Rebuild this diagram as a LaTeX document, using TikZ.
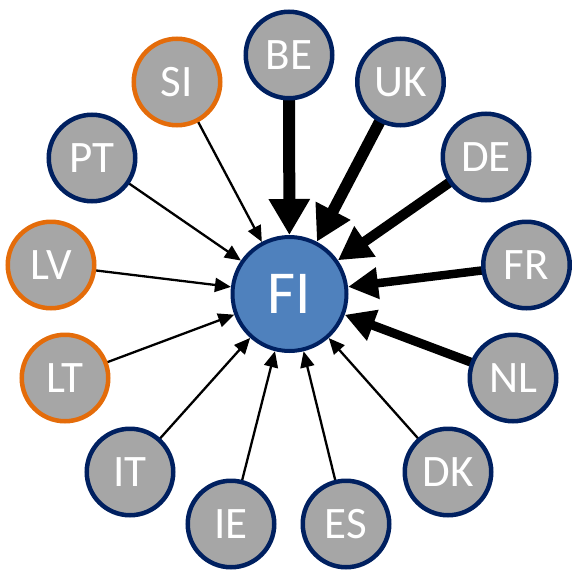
\documentclass[tikz,border=0pt]{standalone}
\usepackage{fontspec}
\setmainfont{Carlito}
\usetikzlibrary{arrows.meta}
\definecolor{navy}{HTML}{002060}
\definecolor{orng}{HTML}{E46C0A}
\definecolor{gry}{HTML}{A6A6A6}
\definecolor{fiblue}{HTML}{4F81BD}
\pgfdeclarelayer{bg}
\pgfsetlayers{bg,main}
\tikzset{
  country/.style={circle, draw=navy, fill=gry, line width=4.5pt, minimum size=86.5pt,
    inner sep=0pt, text=white, font=\fontsize{45}{45}\selectfont},
  eu/.style={country, draw=orng},
  hub/.style={circle, draw=navy, fill=fiblue, line width=4pt, minimum size=114pt,
    inner sep=0pt, text=white, font=\fontsize{61}{61}\selectfont},
  flow/.style n args={3}{line width=#1, -{Triangle[length=#2, width=#3]}, shorten <=-6pt},
  flowthin/.style={flow={2.3pt}{16pt}{14pt}},
}
\begin{document}
\begin{tikzpicture}[x=1pt, y=-1pt]
\useasboundingbox (0,0) rectangle (571,573);
\node[hub] (FI) at (289.5,294) {FI};
\node[country] (BE) at (289,55) {BE};
\node[country] (UK) at (400.5,82) {UK};
\node[country] (DE) at (486,157) {DE};
\node[country] (FR) at (526.5,265) {FR};
\node[country] (NL) at (513,378) {NL};
\node[country] (DK) at (448,472) {DK};
\node[country] (ES) at (346,524) {ES};
\node[country] (IE) at (231,524) {IE};
\node[country] (IT) at (130,472) {IT};
\node[eu] (LT) at (65,378) {LT};
\node[eu] (LV) at (51,265) {LV};
\node[country] (PT) at (92,158) {PT};
\node[eu] (SI) at (177,82) {SI};
\begin{pgfonlayer}{bg}
\draw[flow={12pt}{36pt}{39pt}] (BE) -- (FI);
\draw[flow={11.5pt}{35pt}{37pt}] (UK) -- (FI);
\draw[flow={10pt}{33pt}{35pt}] (DE) -- (FI);
\draw[flow={8.5pt}{30pt}{30pt}] (FR) -- (FI);
\draw[flow={9pt}{30pt}{31pt}] (NL) -- (FI);
\draw[flowthin] (DK) -- (FI);
\draw[flowthin] (ES) -- (FI);
\draw[flowthin] (IE) -- (FI);
\draw[flowthin] (IT) -- (FI);
\draw[flowthin] (LT) -- (FI);
\draw[flowthin] (LV) -- (FI);
\draw[flowthin] (PT) -- (FI);
\draw[flowthin] (SI) -- (FI);
\end{pgfonlayer}
\end{tikzpicture}
\end{document}
